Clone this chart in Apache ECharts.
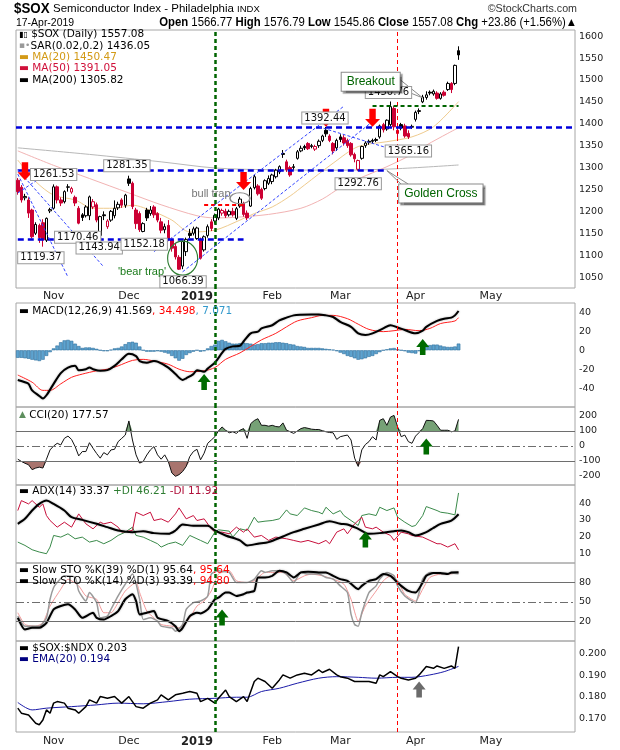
<!DOCTYPE html>
<html><head><meta charset="utf-8">
<script src="https://cdn.jsdelivr.net/npm/echarts@6/dist/echarts.min.js"></script>
<style>html,body{margin:0;padding:0;background:#fff}#c{width:620px;height:750px}</style>
</head><body><div id="c"></div>
<script>
// ---------- categories (trading days) ----------
const monthDays = [
 ['2018-10',[18,19,22,23,24,25,26,29,30,31]],
 ['2018-11',[1,2,5,6,7,8,9,12,13,14,15,16,19,20,21,23,26,27,28,29,30]],
 ['2018-12',[3,4,6,7,10,11,12,13,14,17,18,19,20,21,24,26,27,28,31]],
 ['2019-01',[2,3,4,7,8,9,10,11,14,15,16,17,18,22,23,24,25,28,29,30,31]],
 ['2019-02',[1,4,5,6,7,8,11,12,13,14,15,19,20,21,22,25,26,27,28]],
 ['2019-03',[1,4,5,6,7,8,11,12,13,14,15,18,19,20,21,22,25,26,27,28,29]],
 ['2019-04',[1,2,3,4,5,8,9,10,11,12,15,16,17,18,22,23,24,25,26,29,30]],
 ['2019-05',[1,2,3,6,7,8,9,10,13,14,15,16,17,20,21,22,23,24,28,29,30,31]],
 ['2019-06',[3,4]]
];
const monthTickLabels = ['', 'Nov', 'Dec', '2019', 'Feb', 'Mar', 'Apr', 'May', ''];

// ---------- price (OHLC) ----------
const opens = [1271,1255,1231,1226,1203,1150,1168,1174,1134,1201,
 1207,1256,1226,1222,1255,1244,1232,1207,1192,1190,
 1190,1210,1215,1145,1192,1165,1180,1190,1208,1226,
 1214,1274,1264,1203,1195,1154,1203,1195,1210,1195,
 1176,1158,1168,1135,1120,1095,1075,1108,1150,1150,
 1138,1134,1112,1145,1176,1178,1185,1196,1200,1192,
 1200,1184,1212,1218,1196,1212,1254,1258,1250,1252,
 1264,1268,1279,1290,1332,1313,1300,1300,1321,1338,
 1348,1355,1348,1342,1350,1362,1385,1372,1355,1345,
 1370,1368,1362,1355,1330,1296,1321,1350,1360,1362,
 1364,1370,1398,1388,1398,1435,1385,1398,1395,1378,
 1392,1410,1428,1450,1460,1472,1468,1470,1458,1472,
 1478,1492,1492,1566.77];
const highs = [1276,1260,1240,1232,1206,1175,1172,1182,1186,1208,
 1261.53,1259,1232,1248,1262,1256,1236,1212,1196,1214,
 1236,1228,1220,1190,1200,1182,1203,1225,1222,1230,
 1240,1281.35,1268,1208,1200,1175,1208,1212,1214,1198,
 1185,1172,1180,1140,1128,1100,1133,1140,1160,1165,
 1165,1140,1145,1170,1182,1195,1208,1206,1206,1204,
 1208,1210,1233,1222,1202,1256,1283,1262,1254,1273,
 1282,1286,1297,1305,1340,1318,1304,1308,1340,1350,
 1352,1358,1354,1352,1364,1375,1392.44,1376,1358,1366,
 1376,1374,1366,1358,1334,1318,1350,1360,1364,1366,
 1368,1398,1402,1410,1450.76,1440,1392,1402,1400,1385,
 1398,1430,1435,1466,1474,1476,1478,1474,1472,1476,
 1496,1495,1535,1576.79];
const lows = [1238,1220,1225,1185,1138,1146,1128,1119.37,1130,1196,
 1204,1218,1212,1218,1245,1240,1212,1170.46,1178,1186,
 1180,1205,1175,1143.94,1180,1160,1176,1184,1203,1208,
 1208,1258,1205,1160,1153,1152.18,1178,1190,1185,1175,
 1150,1150,1132,1108,1090,1066.39,1068,1098,1138,1145,
 1135,1090,1108,1140,1155,1172,1180,1190,1185,1188,
 1188,1180,1208,1188,1180,1210,1250,1236,1226,1248,
 1260,1262,1275,1285,1322,1290,1279,1295,1318,1335,
 1340,1340,1344,1338,1345,1358,1370,1358,1330,1338,
 1358,1350,1345,1325,1312,1292.76,1318,1345,1352,1355,
 1358,1366,1380,1384,1394,1385,1368,1385,1368,1365.16,
 1388,1405,1422,1447,1455,1465,1464,1455,1455,1462,
 1475,1470,1488,1545.86];
const closes = [1245,1226,1234,1196,1142,1170,1140,1135,1184,1204,
 1256,1226,1219,1245,1256,1252,1219,1173,1186,1210,
 1233,1222,1180,1188,1190,1178,1200,1207,1216,1214,
 1237,1264,1211,1172,1158,1172,1185,1203,1192,1180,
 1157,1165,1138,1116,1096,1068,1131,1136,1145,1160,
 1162,1093,1142,1165,1161,1191,1205,1202,1190,1200,
 1192,1206,1228,1193,1185,1252,1279,1240,1230,1270,
 1275,1283,1294,1302,1330,1295,1283,1302,1336,1344,
 1345,1343,1350,1348,1360,1372,1377,1362,1338,1362,
 1364,1356,1350,1329,1320,1316,1348,1356,1358,1360,
 1362,1395,1386,1408,1439,1393,1378,1390,1372,1370,
 1394,1426,1430,1461,1466,1470,1474,1458,1468,1465,
 1492,1478,1533.22,1557.08];

// ---------- overlays read at sample days [dayIndex, value] ----------
const ma20Pts = [[0,1317],[5,1268],[10,1237],[16,1226],[21,1207],[27,1207],[32,1214],[38,1199],[43,1180],[48,1153],[55,1157],[62,1180],[66,1195],[71,1210],[76,1235],[80,1260],[88,1310],[95,1348],[103,1359],[110,1370],[116,1393],[123,1450.47]];
const ma50Pts = [[0,1338],[10,1305],[20,1275],[31,1242],[40,1215],[50,1190],[55,1185],[60,1186],[70,1193],[79,1207],[85,1228],[90,1254],[95,1274],[103,1302],[110,1330],[114,1351],[120,1378],[123,1391.05]];
const ma200Pts = [[0,1345],[20,1330],[40,1313],[55,1299],[70,1295],[90,1294],[105,1297],[123,1305.82]];

// ---------- MACD ----------
const macdPts = [[0,-31.4],[2,-33.8],[3,-35.5],[4,-42.4],[6,-48.3],[7,-51],[8,-47.6],[10,-35.5],[12,-24.1],[14,-18.3],[16,-16.5],[17,-21],[19,-20],[20,-18.3],[21,-20],[23,-21.7],[25,-21],[27,-16.5],[29,-9.6],[31,-3.8],[33,-6.2],[34,-11.4],[36,-13.1],[38,-11.4],[39,-12.1],[42,-18.3],[44,-25.2],[46,-31.4],[47,-29.6],[49,-25.2],[50,-21],[52,-22.7],[53,-19.3],[55,-13.1],[57,-2.8],[58,1.4],[60,4.1],[62,4.8],[63,9.3],[65,17.9],[67,19.7],[68,23.1],[71,26.5],[73,31.7],[75,34.5],[77,36.9],[79,37.6],[82,37.9],[84,37.9],[86,36.9],[88,35.2],[90,30],[93,24.8],[95,17.9],[97,16.2],[99,17.9],[102,23.1],[104,26.5],[106,24.1],[108,21.4],[111,17.9],[113,20.7],[114,24.8],[117,31],[119,33.4],[121,34.5],[122,36.9],[123,41.569]];
const signalPts = [[0,-26.2],[4,-33.8],[7,-42.4],[9,-42.4],[12,-35.5],[15,-28.6],[18,-25.2],[22,-21.7],[25,-20],[28,-16.5],[32,-10.7],[35,-9.6],[38,-11.4],[42,-14.8],[45,-20],[48,-22.7],[52,-21.7],[55,-18.3],[58,-9.6],[62,-2.8],[65,4.1],[68,11],[72,17.9],[75,24.8],[78,31],[82,34.5],[85,36.9],[88,36.9],[92,33.4],[95,27.6],[98,22.1],[102,19.7],[105,20.7],[108,22.1],[112,20.7],[115,23.1],[118,28.3],[122,31],[123,34.498]];
const macdHist = [-8,-8,-8.5,-9,-10,-10.7,-11.4,-10,-6,-2,
 2,5,8.5,10.5,11,10,7,4.5,2.5,3,
 3,2.5,1.5,0,-1,-1,0.5,2,2.5,4,
 6.5,8.5,9,8,4,0,-1.5,-1.5,-1.5,-1,
 -1.5,-2.5,-3.5,-6,-8.5,-11,-9,-5,-3,-1.5,
 0,-1.5,-1,2,4.5,6,10,11,9.5,8,
 7,7,7.5,8,7.5,7,6,6.5,7.5,7.5,
 8,8,8.5,8.5,8,7.5,6.5,6,4.5,4,
 3.5,2.5,2.5,2.5,2.5,2,1.5,1,0.5,-1,
 -2.5,-4,-6,-7,-8.5,-10,-9.5,-8.5,-7,-6,
 -4,-2,0,1,2,2.4,1,0,-1,-2.5,
 -3,-3.5,-1,2.4,4,5.5,6,6,5,4,
 3.5,3.5,4,7.071];

// ---------- CCI(20) ----------
const cci = [-88,-103,-115,-125,-158,-147,-141,-147,-88,-26,
 0,18,7,51,66,44,-4,-66,-37,-37,
 22,-15,-50,-81,-44,-59,-26,-22,29,51,
 73,167,40,-59,-114,-103,-60,-26,-4,-59,
 -88,-59,-103,-180,-202,-191,-170,-136,-70,-37,
 -22,-92,-48,18,40,62,100,127,105,88,
 95,84,105,116,51,149,170,182,138,138,
 132,138,130,127,154,105,95,84,100,116,
 123,118,112,110,110,102,95,90,88,44,
 62,68,73,40,-81,-136,-26,10,29,62,
 40,171,182,138,193,204,127,62,73,29,
 18,66,90,116,171,170,167,138,105,105,
 105,95,100,177.57];

// ---------- ADX(14) ----------
const adxPts = [[0,27.6],[2,30.6],[4,35.6],[6,39.6],[8,41.6],[10,39.6],[13,35.6],[15,31.6],[18,30],[22,27.6],[25,25.6],[28,23.6],[32,22.6],[35,23.2],[38,22],[42,21.6],[44,23.6],[46,27.2],[49,26.4],[53,26.4],[55,23.6],[58,20.6],[62,17.6],[64,14.6],[67,15.6],[70,16.6],[74,20],[77,22.6],[80,24.6],[84,27.2],[87,29.2],[90,27.6],[92,27.2],[95,24.6],[98,21.6],[101,22],[105,23.2],[107,23.6],[109,22.6],[111,20.6],[114,22.6],[116,25.2],[118,27.6],[121,29.6],[123,33.37]];
const minusDiPts = [[0,35.6],[1,41.6],[3,39.6],[4,41.6],[6,37.6],[7,39.6],[8,32.6],[9,29.6],[11,25.6],[13,28.6],[15,25.6],[17,33.6],[19,27.6],[21,24.6],[23,28.6],[24,27.6],[26,28.6],[28,25.6],[29,22.6],[32,23.6],[33,34.6],[35,32.6],[37,34.6],[38,29.6],[40,30.6],[42,28.6],[44,33.6],[45,37.2],[47,30.6],[49,32.6],[50,29.6],[52,30.6],[54,24.6],[55,22.6],[57,22.6],[59,21.6],[61,25.6],[63,22.6],[64,24.6],[66,19.6],[68,20.6],[70,17.6],[72,19.6],[75,18.6],[77,17.6],[79,16.6],[81,17.6],[84,15.6],[86,17.6],[87,15.6],[89,22.6],[91,24.6],[92,21.6],[94,27.6],[96,31.6],[97,25.6],[99,24.6],[100,25.6],[102,22.6],[104,20.6],[105,17.6],[107,22.6],[109,21.6],[110,20.6],[113,19.6],[115,17.6],[117,15.6],[118,15.6],[120,13.6],[122,15.6],[123,11.92]];
const plusDiPts = [[0,16.6],[2,14.6],[4,12],[6,10.6],[8,9.6],[9,13.6],[10,20.6],[12,19.6],[14,21.6],[16,18.6],[18,19.6],[20,16.6],[22,17.6],[24,15.6],[26,17.6],[28,20.6],[30,22.6],[32,25.6],[33,20.6],[35,19.6],[37,17.6],[39,15.6],[40,13.6],[42,15.6],[44,16.6],[46,14.6],[48,20.6],[50,18.6],[51,17.6],[53,15.6],[55,22.6],[56,24],[59,23.2],[60,19.6],[62,24.6],[64,23.6],[66,31.6],[67,28.6],[69,29.2],[71,29.6],[73,30.6],[75,36],[76,33.6],[78,32.6],[80,37.2],[82,35.6],[84,34.6],[85,33.6],[86,37.6],[88,33.6],[90,35.6],[91,32.6],[93,29.6],[95,26.6],[96,32.6],[98,33.6],[100,32.6],[101,37.6],[103,35.6],[105,37.2],[106,31.6],[108,28.6],[110,26],[111,26.6],[113,32.6],[114,38],[115,37.2],[117,35.6],[118,34.6],[120,34],[122,33],[123,46.21]];

// ---------- Slow stochastics ----------
const sto39Pts = [[0,25.7],[2,7.6],[4,10.2],[6,10.2],[8,18],[10,38.6],[12,43.8],[14,46.4],[16,38.6],[18,25.7],[21,33.5],[22,25.7],[24,23.1],[26,28.3],[28,36],[30,54.2],[32,61.9],[33,51.6],[34,30.9],[36,33.5],[38,36],[39,25.7],[42,20.5],[44,12.8],[45,5],[46,10.2],[48,28.3],[50,33.5],[51,32.4],[53,38.6],[55,54.2],[56,56.7],[58,64.5],[59,64.5],[61,59.3],[63,61.9],[64,64.5],[66,67],[67,87.8],[69,87.8],[71,90.3],[73,98.1],[75,95.5],[77,87.8],[79,95.5],[81,96.5],[84,95.5],[86,95.5],[88,90.3],[90,85.2],[92,82.6],[95,69.7],[96,74.8],[98,82.6],[100,85.2],[102,92.9],[104,90.3],[105,85.2],[107,74.8],[109,67],[111,64.5],[113,80],[114,90.3],[116,94.5],[118,94.5],[120,92.9],[121,95.5],[123,95.64]];
const sto14Pts = [[0,28.3],[2,12.8],[4,12.8],[6,12.8],[8,25.7],[9,54.2],[10,72.2],[11,80],[13,90.3],[16,87.8],[17,67],[19,51.6],[20,64.5],[22,49],[23,25.7],[25,28.3],[26,38.6],[28,59.3],[30,77.4],[32,92.9],[34,54.2],[35,23.1],[37,25.7],[39,20.5],[40,12.8],[43,10.2],[44,5],[46,15.4],[47,38.6],[49,49],[51,51.6],[53,59.3],[54,92.9],[56,98],[57,97],[59,95.5],[61,80],[64,80],[66,85.2],[68,98],[69,95.5],[71,98],[73,98],[75,92.9],[77,80],[79,95.5],[81,92.9],[84,92.9],[86,87.8],[88,85.2],[90,74.8],[92,64.5],[93,30.9],[94,15.4],[95,12.8],[96,33.5],[98,64.5],[100,74.8],[101,85.2],[103,95.5],[105,90.3],[106,74.8],[108,59.3],[110,51.6],[111,49],[112,64.5],[113,85.2],[115,95.5],[117,94.5],[119,92.9],[121,94.5],[123,93.39]];
const sto14dPts = [[0,33.5],[2,15.4],[5,12.8],[7,18],[9,43.8],[12,69.7],[14,85],[17,74.8],[19,59.3],[22,54.2],[24,33.5],[26,33.5],[28,49],[30,67],[33,80],[34,64.5],[36,36],[38,25.7],[40,15.4],[43,12.8],[45,10.2],[48,25.7],[50,43.8],[52,51.6],[54,67],[56,92.9],[59,98],[61,82.6],[64,80],[66,82.6],[69,95.5],[71,95.5],[74,95.5],[77,82.6],[80,90.3],[82,92.9],[85,90.3],[88,85.2],[91,77.4],[93,54.2],[95,20.5],[97,43.8],[100,67],[102,82.6],[104,90.3],[106,82.6],[108,61.9],[111,51.6],[113,69.7],[115,87.8],[118,92.9],[120,92.9],[123,94.8]];

// ---------- $SOX:$NDX ratio ----------
const ratioPts = [[0,0.1749],[1,0.1726],[3,0.1718],[5,0.1680],[6,0.1673],[7,0.1695],[8,0.1741],[9,0.1726],[10,0.1772],[11,0.1779],[13,0.1772],[14,0.1749],[16,0.1741],[17,0.1726],[19,0.1756],[20,0.1787],[22,0.1772],[23,0.1802],[25,0.1794],[27,0.1802],[29,0.1772],[31,0.1802],[33,0.1756],[35,0.1749],[37,0.1772],[39,0.1787],[40,0.1810],[42,0.1787],[44,0.1810],[46,0.1817],[48,0.1825],[50,0.1817],[51,0.1779],[53,0.1794],[55,0.1772],[56,0.1794],[58,0.1832],[59,0.1802],[61,0.1779],[63,0.1802],[64,0.1779],[66,0.1871],[67,0.1886],[69,0.1871],[71,0.1840],[73,0.1878],[74,0.1901],[76,0.1886],[78,0.1901],[80,0.1909],[82,0.1901],[84,0.1924],[85,0.1912],[87,0.1927],[89,0.1901],[90,0.1893],[92,0.1886],[94,0.1871],[96,0.1871],[98,0.1871],[100,0.1863],[101,0.1901],[102,0.1893],[104,0.1916],[106,0.1893],[107,0.1886],[109,0.1878],[111,0.1886],[112,0.1901],[114,0.1939],[116,0.1931],[117,0.1942],[119,0.1931],[121,0.1942],[122,0.1931],[123,0.203]];
const ratioEmaPts = [[0,0.1775],[4,0.1741],[8,0.1749],[15,0.1756],[22,0.1764],[28,0.1772],[35,0.1769],[42,0.1779],[48,0.1790],[55,0.1794],[61,0.1799],[64,0.1799],[68,0.1825],[73,0.1840],[78,0.1863],[84,0.1886],[89,0.1893],[95,0.1890],[100,0.1886],[106,0.1890],[110,0.1890],[115,0.1901],[119,0.1916],[123,0.194]];

// ---------- build ----------
const dates = [];
const monthStart = {};
monthDays.forEach(([ym, ds], k) => {
  ds.forEach((d, j) => {
    if (j === 0 && monthTickLabels[k]) monthStart[dates.length] = monthTickLabels[k];
    dates.push(ym + '-' + String(d).padStart(2, '0'));
  });
});
const D = i => dates[i];
const P = pts => pts.map(p => [dates[p[0]], p[1]]);

const RED = '#cc0033';
const candleData = opens.map((o, i) => {
  const c = closes[i];
  const up = i > 0 && c >= closes[i - 1];
  const col = up ? '#000000' : RED;
  const fill = c > o ? '#ffffff' : col;
  return {value: [o, c, lows[i], highs[i]],
    itemStyle: {color: fill, color0: fill, borderColor: col, borderColor0: col, borderWidth: 1}};
});

const FONT = '"DejaVu Sans", Verdana, sans-serif';
const AFONT = '"Liberation Sans", Arial, sans-serif';

const L = 16, R = 45;
const grids = [
  {left: L, right: R, top: 30, height: 258},
  {left: L, right: R, top: 303, height: 104},
  {left: L, right: R, top: 407, height: 78},
  {left: L, right: R, top: 485, height: 78},
  {left: L, right: R, top: 563, height: 78},
  {left: L, right: R, top: 641, height: 91},
  {left: L, right: R, top: 288, height: 15, show: false}
].map(g => Object.assign({show: true, borderColor: '#a6a6a6', borderWidth: 1, backgroundColor: 'transparent'}, g));

const xAxes = grids.map((g, k) => ({
  gridIndex: k, type: 'category', data: dates, boundaryGap: true,
  axisLine: {show: false}, axisTick: {show: false}, splitLine: {show: false},
  axisLabel: {
    show: k === 0 || k === 5,
    interval: idx => monthStart[idx] !== undefined,
    formatter: (v, idx) => monthStart[idx] === '2019' ? '{b|2019}' : (monthStart[idx] || ''),
    margin: k === 0 ? 3 : 4, fontFamily: FONT, fontSize: 11, color: '#222',
    rich: {b: {fontWeight: 'bold', fontFamily: FONT, fontSize: 11.5, color: '#222'}}
  }
}));

const yax = (g, min, max, interval, fmt) => ({
  gridIndex: g, type: 'value', position: 'right', min, max, interval,
  splitLine: {show: false}, axisLine: {show: false}, axisTick: {show: false},
  axisLabel: {margin: 4, fontSize: 9.5, fontFamily: FONT, color: '#222', formatter: fmt, showMinLabel: true, showMaxLabel: true}
});
const yAxes = [
  yax(0, 1025, 1614, 25, v => (v % 50 === 0 && v >= 1050 && v <= 1600) ? String(v) : ''),
  yax(1, -60, 50, 10, v => (v % 20 === 0 && v >= -40 && v <= 40) ? String(v) : ''),
  yax(2, -260, 260, 20, v => (v % 100 === 0 && Math.abs(v) <= 200) ? String(v) : ''),
  yax(3, 4, 51, 1, v => (v % 10 === 0 && v >= 10 && v <= 40) ? String(v) : ''),
  yax(4, -10, 110, 10, v => ([20, 50, 80].indexOf(v) >= 0) ? String(v) : ''),
  yax(5, 0.164, 0.2056, 0.002, v => { const r = Math.round(v * 1000); return (Math.abs(v * 1000 - r) < 1e-6 && r % 10 === 0 && r >= 170 && r <= 200) ? (r / 1000).toFixed(3) : ''; }),
  {gridIndex: 6, type: 'value', show: false, min: 0, max: 1}
];

const vLineData = [
  {xAxis: D(55), lineStyle: {color: '#006400', width: 2.5, type: [4, 3]}},
  {xAxis: D(106), lineStyle: {color: '#ff0000', width: 1, type: [4, 3]}}
];
const ml = extra => ({symbol: ['none', 'none'], silent: true, animation: false, label: {show: false}, data: vLineData.concat(extra || [])});

const BLUE_H = {color: '#0000dd', width: 2.5, type: [6, 4]};
const BLUE_D = {color: '#3344ff', width: 1, type: [3, 2]};
const seg = (i1, v1, i2, v2, ls) => [{coord: [D(i1), v1], lineStyle: ls}, {coord: [D(i2), v2]}];
const GREY_PTR = {color: '#8a8a8a', width: 1, type: 'solid'};
const mainLines = [
  {yAxis: 1391, lineStyle: BLUE_H},
  seg(0, 1293, 103, 1293, BLUE_H),
  seg(0, 1136, 63, 1136, BLUE_H),
  seg(52, 1216, 63, 1216, {color: '#ff0000', width: 2, type: [4, 3]}),
  seg(99, 1440, 123, 1440, {color: '#006400', width: 2, type: [4, 3]}),
  seg(0, 1285, 14, 1050, BLUE_D),
  seg(0, 1295, 24, 1073, BLUE_D),
  seg(0, 1242, 7, 1280, BLUE_D),
  seg(38, 1108, 91, 1440, BLUE_D),
  seg(46, 1062, 99, 1405, BLUE_D),
  seg(84, 1393, 109, 1330, BLUE_D),
  seg(106, 1505, 113, 1459, GREY_PTR),
  seg(106, 1482, 113, 1459, GREY_PTR),
  seg(103, 1293, 107, 1262, GREY_PTR),
  seg(103, 1293, 109, 1262, GREY_PTR)
];

const DOWN = 'path://M4,0L10,0L10,9L14,9L7,16L0,9L4,9Z';
const UP = 'path://M7,0L14,8L10,8L10,16L4,16L4,8L0,8Z';
const arrowDn = (i, v) => ({coord: [D(i), v], symbol: DOWN, symbolSize: [15, 18], symbolOffset: [0, '-50%'], itemStyle: {color: '#ff0000'}, label: {show: false}});
const arrowUp = (i, v, col) => ({coord: [D(i), v], symbol: UP, symbolSize: [13, 16], symbolOffset: [0, '50%'], itemStyle: {color: col || '#006b00'}, label: {show: false}});
const box = (i, v, txt, dx, dy) => ({coord: [D(i), v], symbol: 'rect', symbolSize: 1, itemStyle: {color: 'rgba(0,0,0,0)'},
  label: {show: true, position: 'inside', offset: [dx, dy], formatter: txt, color: '#111', fontSize: 10, fontFamily: FONT,
    backgroundColor: '#fff', borderColor: '#9a9a9a', borderWidth: 1, padding: [1, 2, 0, 2]}});
const note = (i, v, txt, dx, dy, col, extra) => ({coord: [D(i), v], symbol: 'rect', symbolSize: 1, itemStyle: {color: 'rgba(0,0,0,0)'},
  label: Object.assign({show: true, position: 'inside', offset: [dx, dy], formatter: txt, color: col, fontSize: 11, fontFamily: AFONT}, extra || {})});
const callout = {backgroundColor: '#fff', borderColor: '#8a8a8a', borderWidth: 1, padding: [3, 5], fontSize: 12,
  shadowColor: 'rgba(0,0,0,0.35)', shadowOffsetX: 2, shadowOffsetY: 2, shadowBlur: 1};
const ring = (i, v, w, h, col) => ({coord: [D(i), v], symbol: 'circle', symbolSize: [w, h], itemStyle: {color: 'rgba(0,0,0,0)', borderColor: col, borderWidth: 1.2}, label: {show: false}});

const mainPoints = [
  box(10, 1261.53, '1261.53', 0, -10),
  box(31, 1281.35, '1281.35', -2, -10),
  box(7, 1119.37, '1119.37', -2, 11),
  box(17, 1170.46, '1170.46', -1, 13),
  box(23, 1143.94, '1143.94', -1, 12),
  box(35, 1152.18, '1152.18', 1, 12),
  box(45, 1066.39, '1066.39', 4, 12),
  box(86, 1392.44, '1392.44', -1, -9),
  box(95, 1292.76, '1292.76', 0, 13),
  box(104, 1450.76, '1450.76', -2, -9),
  box(109, 1365.16, '1365.16', 0, 12),
  arrowDn(2, 1271), arrowDn(63, 1249), arrowDn(86, 1393), arrowDn(99, 1393),
  ring(62, 1230, 20, 11, '#8a8a8a'),
  ring(46, 1093, 30, 34, '#2e7d32'),
  note(62, 1233, 'bull trap', -29, -3, '#777777'),
  note(45, 1066.39, "'bear trap'", -37, 2, '#1a7a1a'),
  note(113, 1455, 'Breakout', -52, -18, '#006400', callout),
  note(103, 1293, 'Golden Cross', 54, 23, '#006400', callout)
];

const lineS = (xi, pts, color, width, extra) => Object.assign({
  type: 'line', xAxisIndex: xi, yAxisIndex: xi, data: P(pts), showSymbol: false, connectNulls: true,
  silent: true, animation: false, lineStyle: {color, width}}, extra || {});
const HALO = {shadowColor: 'rgba(0,0,0,0.35)', shadowBlur: 2};

const series = [
  lineS(0, ma200Pts, '#b8b8b8', 1, {smooth: 0.3}),
  lineS(0, ma50Pts, '#f2b3b3', 1, {smooth: 0.3}),
  lineS(0, ma20Pts, '#efcb8e', 1, {smooth: 0.3}),
  {type: 'candlestick', xAxisIndex: 0, yAxisIndex: 0, data: candleData, barWidth: 3, silent: true, animation: false, z: 3,
    markLine: ml(mainLines), markPoint: {silent: true, animation: false, label: {show: false}, data: mainPoints}},
  // strip between main panel and MACD (keeps vertical markers continuous)
  {type: 'line', xAxisIndex: 6, yAxisIndex: 6, data: [[D(0), 0.5]], showSymbol: false, lineStyle: {opacity: 0}, silent: true, markLine: ml()},
  // MACD
  {type: 'bar', xAxisIndex: 1, yAxisIndex: 1, data: macdHist, barWidth: '100%', silent: true, animation: false,
    itemStyle: {color: '#5ea3cf', borderColor: '#2c6f9e', borderWidth: 0.6},
    markLine: ml(), markPoint: {silent: true, label: {show: false}, data: [arrowUp(52, -25), arrowUp(113, 11.8)]}},
  lineS(1, signalPts, '#ff2020', 1, {smooth: 0.3}),
  lineS(1, macdPts, '#000000', 2, {smooth: 0.3, lineStyle: Object.assign({color: '#000', width: 2}, HALO)}),
  // CCI
  {type: 'line', xAxisIndex: 2, yAxisIndex: 2, data: cci.map(v => Math.max(v, 100)), showSymbol: false, silent: true, animation: false,
    lineStyle: {opacity: 0}, areaStyle: {color: '#76a176', opacity: 1, origin: 100}},
  {type: 'line', xAxisIndex: 2, yAxisIndex: 2, data: cci.map(v => Math.min(v, -100)), showSymbol: false, silent: true, animation: false,
    lineStyle: {opacity: 0}, areaStyle: {color: '#a8746e', opacity: 1, origin: -100}},
  {type: 'line', xAxisIndex: 2, yAxisIndex: 2, data: cci, showSymbol: false, silent: true, animation: false,
    lineStyle: {color: '#111', width: 1},
    markLine: ml([
      {yAxis: 100, lineStyle: {color: '#6e6e6e', width: 1, type: 'solid'}},
      {yAxis: -100, lineStyle: {color: '#6e6e6e', width: 1, type: 'solid'}},
      {yAxis: 0, lineStyle: {color: '#6e6e6e', width: 1, type: [8, 3, 2, 3]}}
    ]),
    markPoint: {silent: true, label: {show: false}, data: [arrowUp(114, 50)]}},
  // ADX
  lineS(3, plusDiPts, '#3a8a4a', 1),
  lineS(3, minusDiPts, '#c8103c', 1),
  lineS(3, adxPts, '#000', 2, {smooth: 0.3, lineStyle: Object.assign({color: '#000', width: 2}, HALO),
    markLine: ml(), markPoint: {silent: true, label: {show: false}, data: [arrowUp(97, 23)]}}),
  // STO
  lineS(4, sto14dPts, '#f39a9a', 1, {smooth: 0.2}),
  lineS(4, sto14Pts, '#9a9a9a', 1.5, {smooth: 0.2}),
  lineS(4, sto39Pts, '#000', 2, {smooth: 0.2, lineStyle: Object.assign({color: '#000', width: 2}, HALO),
    markLine: ml([
      {yAxis: 80, lineStyle: {color: '#6e6e6e', width: 1, type: 'solid'}},
      {yAxis: 20, lineStyle: {color: '#6e6e6e', width: 1, type: 'solid'}},
      {yAxis: 50, lineStyle: {color: '#6e6e6e', width: 1, type: [8, 3, 2, 3]}}
    ]),
    markPoint: {silent: true, label: {show: false}, data: [arrowUp(57, 38.6)]}}),
  // ratio
  lineS(5, ratioEmaPts, '#1a1aa8', 1, {smooth: 0.3}),
  lineS(5, ratioPts, '#000', 1.5, {markLine: ml(), markPoint: {silent: true, label: {show: false}, data: [arrowUp(112, 0.1871, '#6b6b6b')]}})
];

// ---------- texts ----------
const rs = (fill, extra) => Object.assign({fill, fontFamily: FONT, fontSize: 10.5}, extra || {});
const leg = (x, y, text, rich) => ({type: 'text', left: x, top: y, silent: true, z: 100,
  style: {text, fontFamily: FONT, fontSize: 10.5, fill: '#000', rich: rich || {}}});
const htxt = (x, y, text, size, weight, sx, align, fill, rich) => ({type: 'text', x, y, scaleX: sx, silent: true, z: 100,
  style: {text, fontFamily: AFONT, fontSize: size, fontWeight: weight || 'normal', fill: fill || '#000', align: align || 'left', verticalAlign: 'top', rich: rich || {}}});
const hr = (size, weight) => ({fill: '#000', fontFamily: AFONT, fontSize: size, fontWeight: weight || 'normal'});

const graphic = [
  htxt(14, 1, '$SOX', 15.5, 'bold', 0.86),
  htxt(53, 3, '{a|Semiconductor Index - Philadelphia} {s|INDX}', 11.5, 'normal', 1, 'left', '#000', {a: hr(11.5), s: hr(9.5)}),
  htxt(577, 3, '\u00a9StockCharts.com', 11.5, 'normal', 0.93, 'right', '#333'),
  htxt(16, 17, '17-Apr-2019', 11, 'normal', 0.95),
  htxt(577, 17, '{b|Open} 1566.77 {b|High} 1576.79 {b|Low} 1545.86 {b|Close} 1557.08 {b|Chg} +23.86 (+1.56%)\u25b2',
    12, 'normal', 0.945, 'right', '#000', {b: hr(12, 'bold')}),

  leg(19, 29, '{k|\u25ae\u25af} $SOX (Daily) 1557.08', {k: rs('#000', {fontSize: 8})}),
  leg(19, 40.5, '{g|\u25aa\u2022}SAR(0.02,0.2) 1436.05', {g: rs('#999', {fontSize: 9})}),
  leg(19, 51.5, '{c|\u25ac MA(20) 1450.47}', {c: rs('#d39a16')}),
  leg(19, 63, '{c|\u25ac MA(50) 1391.05}', {c: rs('#d0103a')}),
  leg(19, 74.5, '{c|\u25ac} MA(200) 1305.82', {c: rs('#000')}),

  leg(19, 306, '\u25ac MACD(12,26,9) 41.569{r|, 34.498}{b|, 7.071}', {r: rs('#ff0000'), b: rs('#3399cc')}),
  leg(19, 409.5, '{g|\u25b2} CCI(20) 177.57', {g: rs('#5e8f5e', {fontSize: 9})}),
  leg(19, 486, '\u25ac ADX(14) 33.37 {g|+DI 46.21} {r|-DI 11.92}', {g: rs('#2e7d32'), r: rs('#b0103a')}),
  leg(19, 565, '\u25ac Slow STO %K(39) %D(1) 95.64{r|, 95.64}', {r: rs('#ff0000')}),
  leg(19, 575.5, '\u25ac Slow STO %K(14) %D(3) 93.39{r|, 94.80}', {r: rs('#ff0000')}),
  leg(19, 643, '\u25ac $SOX:$NDX 0.203'),
  leg(19, 654, '{n|\u25ac EMA(20) 0.194}', {n: rs('#000080')})
];

const chart = echarts.init(document.getElementById('c'), null, {renderer: 'canvas'});
chart.setOption({
  backgroundColor: '#ffffff', animation: false,
  grid: grids, xAxis: xAxes, yAxis: yAxes, series, graphic
});
</script>
</body></html>
